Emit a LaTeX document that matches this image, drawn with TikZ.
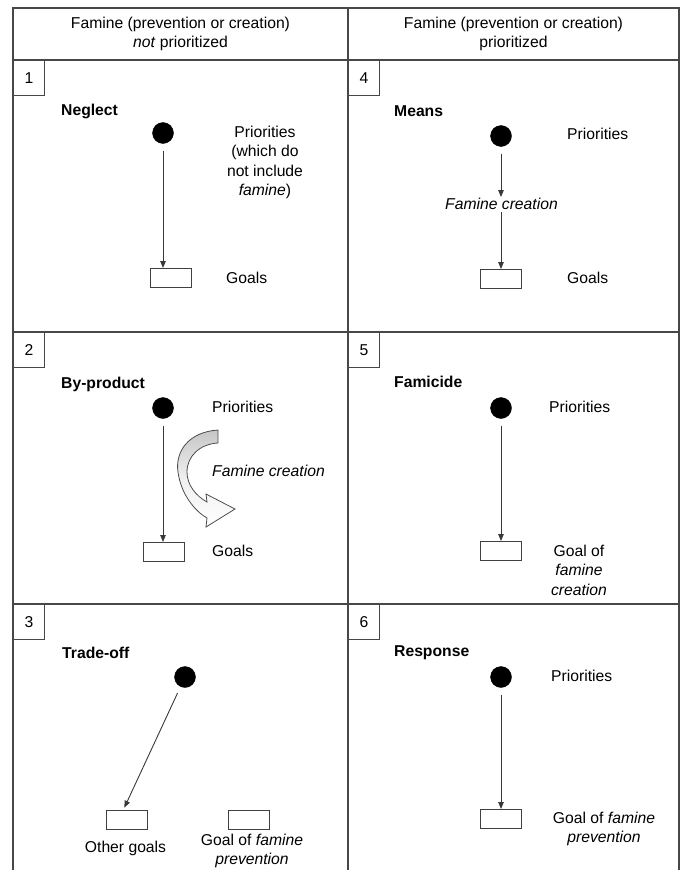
\documentclass[tikz,border=0pt]{standalone}
\usepackage{fontspec}
\setmainfont{Liberation Sans}
\usetikzlibrary{arrows.meta}
\newcommand\lblfont{\fontsize{15.7}{19.5}\selectfont}
\tikzset{
  frame/.style={line width=1.4pt, draw=black!72},
  numbox/.style={draw=black!72, line width=1.2pt, minimum width=31pt, minimum height=35pt, inner sep=0pt, anchor=north west, font=\lblfont},
  dot/.style={circle, fill=black, draw=black, minimum size=21pt, inner sep=0pt},
  goalbox/.style={draw=black!75, line width=1pt, minimum width=41pt, minimum height=19pt, inner sep=0pt},
  arr/.style={draw=black!78, line width=0.9pt, -{Triangle[length=7pt,width=5.5pt]}},
  lbl/.style={font=\lblfont, inner sep=0pt, align=center},
  lblw/.style={font=\lblfont, inner sep=0pt, anchor=west, align=left},
  ttl/.style={font=\lblfont\bfseries, inner sep=0pt, anchor=west}
}
\begin{document}
\begin{tikzpicture}[x=1pt,y=-1pt]
\useasboundingbox (0,0) rectangle (683,870);
% frame
\draw[frame] (13,870) -- (13,8) -- (679,8) -- (679,870);
\draw[frame] (348,8) -- (348,870);
\draw[frame] (13,60) -- (679,60);
\draw[frame] (13,332) -- (679,332);
\draw[frame] (13,604) -- (679,604);
% headers
\node[lbl] (h1) at (180.5,34) {Famine (prevention or creation)\\\textit{not} prioritized};
\node[lbl] (h2) at (513.5,34) {Famine (prevention or creation)\\prioritized};
% number boxes
\node[numbox] (n1) at (13,60) {1};
\node[numbox] (n4) at (348,60) {4};
\node[numbox] (n2) at (13,332) {2};
\node[numbox] (n5) at (348,332) {5};
\node[numbox] (n3) at (13,604) {3};
\node[numbox] (n6) at (348,604) {6};

% Panel 1: Neglect
\node[ttl] (t1) at (61,111) {Neglect};
\node[dot] (d1) at (163,133) {};
\node[lbl] (p1) at (265,162.5) {Priorities\\(which do\\not include\\\textit{famine})};
\node[goalbox] (g1) at (170.5,278) {};
\node[lblw] (gl1) at (226,278) {Goals};
\draw[arr, shorten <=7pt] (d1) -- (d1 |- g1.north);

% Panel 2: By-product
\node[ttl] (t2) at (61,384) {By-product};
\node[dot] (d2) at (163,408) {};
\node[lblw] (p2) at (212,407) {Priorities};
\node[goalbox] (g2) at (163.5,552) {};
\node[lblw] (gl2) at (212,551) {Goals};
\draw[arr, shorten <=7pt] (d2) -- (d2 |- g2.north);
\node[lblw] (fc2) at (212,471) {\textit{Famine creation}};
\draw[draw=black!70, line width=0.8pt, top color=gray!45, bottom color=white, middle color=gray!12]
  (218,430) .. controls (188,432) and (175,452) .. (178,472)
  .. controls (181,495) and (196,512) .. (207,518)
  -- (206,527) -- (235,509) -- (206,494) -- (207,502)
  .. controls (196,496) and (187,485) .. (187,472)
  .. controls (187,456) and (200,444) .. (218,443) -- cycle;

% Panel 3: Trade-off
\node[ttl] (t3) at (62,653) {Trade-off};
\node[dot] (d3) at (185,677) {};
\node[goalbox] (g3a) at (126.5,819.5) {};
\node[goalbox] (g3b) at (249,819.5) {};
\node[lbl] (gl3a) at (125.5,848.5) {Other goals};
\node[lbl] (gl3b) at (252,851) {Goal of \textit{famine}\\\textit{prevention}};
\draw[arr, shorten <=7pt, shorten >=2pt] (d3) -- ([xshift=-3pt]g3a.north);

% Panel 4: Means
\node[ttl] (t4) at (394,111) {Means};
\node[dot] (d4) at (501,136) {};
\node[lblw] (p4) at (567,134) {Priorities};
\node[lbl] (fc4) at (501.5,204) {\textit{Famine creation}};
\node[goalbox] (g4) at (501,279) {};
\node[lblw] (gl4) at (567,278) {Goals};
\draw[arr, shorten <=7pt, shorten >=1pt] (d4) -- (d4 |- fc4.north);
\draw[arr, shorten <=2pt] (d4 |- fc4.south) -- (d4 |- g4.north);

% Panel 5: Famicide
\node[ttl] (t5) at (394,382) {Famicide};
\node[dot] (d5) at (501,408) {};
\node[lblw] (p5) at (549,407) {Priorities};
\node[goalbox] (g5) at (500.5,551) {};
\node[lbl] (gl5) at (579,570) {Goal of\\\textit{famine}\\\textit{creation}};
\draw[arr, shorten <=7pt] (d5) -- (d5 |- g5.north);

% Panel 6: Response
\node[ttl] (t6) at (394,653) {Response};
\node[dot] (d6) at (501,677) {};
\node[lblw] (p6) at (551,676) {Priorities};
\node[goalbox] (g6) at (500.5,819) {};
\node[lbl] (gl6) at (604,829) {Goal of \textit{famine}\\\textit{prevention}};
\draw[arr, shorten <=7pt] (d6) -- (d6 |- g6.north);
\end{tikzpicture}
\end{document}
